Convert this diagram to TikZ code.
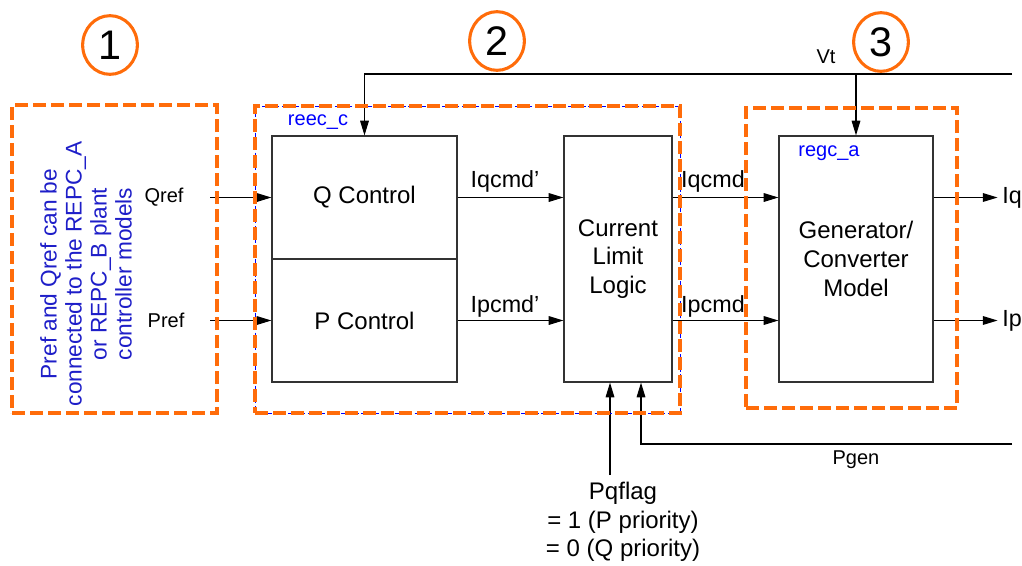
\documentclass[tikz,border=0pt]{standalone}
\usepackage{fontspec}
\setmainfont{Liberation Sans}
\usetikzlibrary{arrows.meta,fit,shapes.geometric}

\definecolor{naranja}{RGB}{255,108,10}
\definecolor{azultxt}{RGB}{30,30,200}

\tikzset{
  sig/.style={-{Triangle[length=11pt,width=6.5pt]}, line width=0.8pt},
  blk/.style={draw=black!80, line width=0.9pt, inner sep=0pt, align=center,
    font=\fontsize{18}{21.5}\selectfont},
  grpbox/.style={draw=naranja, line width=2.3pt, dash pattern=on 9.5pt off 4pt, inner sep=0pt},
  numcirc/.style={ellipse, draw=naranja, line width=2.3pt, minimum width=41pt, minimum height=44pt,
    inner sep=0pt, font=\fontsize{31}{31}\selectfont},
  lbl/.style={font=\fontsize{17.5}{21}\selectfont},
  smlbl/.style={font=\fontsize{15}{18}\selectfont},
  tag/.style={text=blue, font=\fontsize{15}{18}\selectfont},
}

\begin{document}
\begin{tikzpicture}[x=0.75pt,y=-0.75pt]
    \useasboundingbox (0,0) rectangle (1022,565);

    % Bloques
    \node[blk, minimum width=138.75pt, minimum height=92.25pt] (qctl) at (364.5,197.5) {Q Control};
    \node[blk, minimum width=138.75pt, minimum height=92.25pt] (pctl) at (364.5,320.5) {P Control};
    \node[blk, minimum width=81pt, minimum height=184.5pt] (cll) at (618,259) {Current\\Limit\\Logic};
    \node[blk, minimum width=115.5pt, minimum height=184.5pt] (gen) at (856,259) {Generator/\\Converter\\Model};

    % Etiquetas
    \node[smlbl] (qref) at (164,197) {Qref};
    \node[smlbl] (pref) at (166,320) {Pref};
    \node[lbl] (iqp) at (505,181) {Iqcmd’};
    \node[lbl] (ipp) at (505,306) {Ipcmd’};
    \node[lbl] (iqc) at (713,181) {Iqcmd};
    \node[lbl] (ipc) at (713,306) {Ipcmd};
    \node[lbl] (iq) at (1012,197.5) {Iq};
    \node[lbl] (ip) at (1012,320.5) {Ip};
    \node[smlbl] (vt) at (826,57) {Vt};
    \node[smlbl] (pgen) at (856,460) {Pgen};
    \node[lbl, align=center, font=\fontsize{18}{21.5}\selectfont] (pqflag) at (623,522)
      {Pqflag\\= 1 (P priority)\\= 0 (Q priority)};
    \node[tag] (reec) at (318,122) {reec\_c};
    \node[tag] (regc) at (829,153) {regc\_a};
    \node[text=azultxt, rotate=90, align=center, font=\fontsize{17}{18.75}\selectfont] (nota) at (86,274)
      {Pref and Qref can be\\connected to the REPC\_A\\or REPC\_B plant\\controller models};

    % Puntos libres
    \coordinate (qin) at (210,197.5);
    \coordinate (pin) at (210,320.5);
    \coordinate (vtend) at (1012,74);
    \coordinate (pqtop) at (610,475);
    \coordinate (pgenend) at (1012,444);
    \coordinate (pgenin) at (641,444);

    % Flechas
    \draw[sig] (qin) -- (qctl.west);
    \draw[sig] (pin) -- (pctl.west);
    \draw[sig] (qctl.east) -- (qctl.east -| cll.west);
    \draw[sig] (pctl.east) -- (pctl.east -| cll.west);
    \draw[sig] (cll.east |- qctl.east) -- (gen.west |- qctl.east);
    \draw[sig] (cll.east |- pctl.east) -- (gen.west |- pctl.east);
    \draw[sig] (gen.east |- qctl.east) -- (iq.west);
    \draw[sig] (gen.east |- pctl.east) -- (ip.west);
    \draw[sig] (vtend) -- (qctl.north |- vtend) -- (qctl.north);
    \draw[sig] (gen.north |- vtend) -- (gen.north);
    \draw[sig] (pqtop) -- (pqtop |- cll.south);
    \draw[sig] (pgenend) -- (pgenin) -- (pgenin |- cll.south);

    % Grupos
    \draw[blue, line width=0.5pt, dash pattern=on 3pt off 2pt] (255,106) rectangle (680,413);
    \node[grpbox, fit={(12,105) (217,413)}] (grp1) {};
    \node[grpbox, fit={(255,106) (680,413)}] (grp2) {};
    \node[grpbox, fit={(746,108) (957,408)}] (grp3) {};

    % Numeros
    \node[numcirc] (n1) at (110,45) {1};
    \node[numcirc] (n2) at (497,41) {2};
    \node[numcirc] (n3) at (881,42) {3};
\end{tikzpicture}
\end{document}
